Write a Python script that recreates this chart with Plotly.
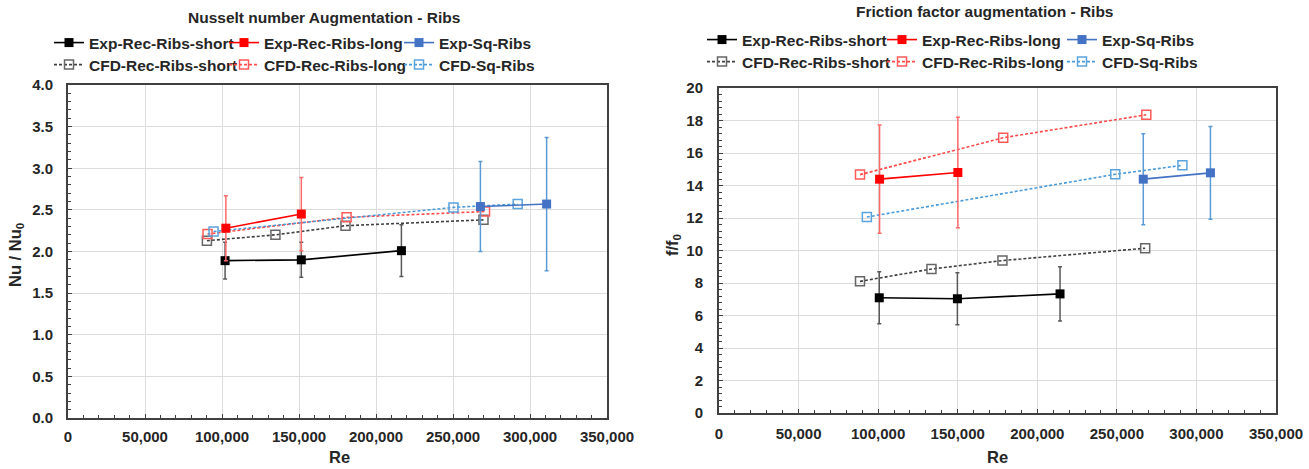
import plotly.graph_objects as go

W, H = 1309, 469

# ---------------- Data: Nusselt number augmentation (left) ----------------
nu_exp_short_re = [102000, 151500, 216500]
nu_exp_short = [1.89, 1.90, 2.01]
nu_exp_short_err = [0.22, 0.21, 0.31]

nu_exp_long_re = [102500, 151500]
nu_exp_long = [2.28, 2.45]
nu_exp_long_err = [0.39, 0.44]

nu_exp_sq_re = [267800, 310800]
nu_exp_sq = [2.54, 2.57]
nu_exp_sq_err = [0.54, 0.80]

nu_cfd_short_re = [90200, 134700, 180200, 269800]
nu_cfd_short = [2.13, 2.20, 2.31, 2.38]

nu_cfd_long_re = [90600, 180900, 270800]
nu_cfd_long = [2.21, 2.41, 2.48]

nu_cfd_sq_re = [94500, 250300, 292000]
nu_cfd_sq = [2.24, 2.53, 2.57]

# ---------------- Data: Friction factor augmentation (right) ----------------
f_exp_short_re = [100700, 149800, 214300]
f_exp_short = [7.09, 7.03, 7.33]
f_exp_short_err = [1.60, 1.60, 1.67]

f_exp_long_re = [100900, 150100]
f_exp_long = [14.39, 14.80]
f_exp_long_err = [3.33, 3.40]

f_exp_sq_re = [266600, 308800]
f_exp_sq = [14.39, 14.78]
f_exp_sq_err = [2.80, 2.85]

f_cfd_short_re = [88600, 133500, 178100, 267800]
f_cfd_short = [8.10, 8.86, 9.38, 10.14]

f_cfd_long_re = [88600, 178600, 268500]
f_cfd_long = [14.67, 16.94, 18.35]

f_cfd_sq_re = [92900, 249000, 291200]
f_cfd_sq = [12.06, 14.69, 15.24]

names_exp = ["Exp-Rec-Ribs-short", "Exp-Rec-Ribs-long", "Exp-Sq-Ribs"]
names_cfd = ["CFD-Rec-Ribs-short", "CFD-Rec-Ribs-long", "CFD-Sq-Ribs"]

exp_colors = ["#000000", "#FF0000", "#4472C4"]
exp_err_colors = ["#595959", "#FF6B6B", "#5B9BD5"]
cfd_line_colors = ["#404040", "#FF4B4B", "#4A9AD8"]
cfd_marker_colors = ["#666666", "#FF5A5A", "#5BA3DC"]

FONT = "Liberation Sans, Arial, sans-serif"

fig = go.Figure()


def add_cfd(xs, ys, i, xa, ya, leg):
    fig.add_trace(go.Scatter(
        x=xs, y=ys, name=names_cfd[i], mode="lines+markers",
        line=dict(color=cfd_line_colors[i], width=1.6, dash="3px,2px"),
        marker=dict(symbol="square-open", size=9, color=cfd_marker_colors[i],
                    line=dict(width=1.5, color=cfd_marker_colors[i])),
        xaxis=xa, yaxis=ya, legend=leg))


def add_exp(xs, ys, err, i, xa, ya, leg):
    fig.add_trace(go.Scatter(
        x=xs, y=ys, name=names_exp[i], mode="lines+markers",
        line=dict(color=exp_colors[i], width=1.6),
        marker=dict(symbol="square", size=9, color=exp_colors[i]),
        error_y=dict(type="data", array=err, visible=True, color=exp_err_colors[i],
                     thickness=1.5, width=2),
        xaxis=xa, yaxis=ya, legend=leg))


# left chart
add_cfd(nu_cfd_short_re, nu_cfd_short, 0, "x", "y", "legend2")
add_cfd(nu_cfd_long_re, nu_cfd_long, 1, "x", "y", "legend2")
add_cfd(nu_cfd_sq_re, nu_cfd_sq, 2, "x", "y", "legend2")
add_exp(nu_exp_short_re, nu_exp_short, nu_exp_short_err, 0, "x", "y", "legend")
add_exp(nu_exp_long_re, nu_exp_long, nu_exp_long_err, 1, "x", "y", "legend")
add_exp(nu_exp_sq_re, nu_exp_sq, nu_exp_sq_err, 2, "x", "y", "legend")

# right chart
add_cfd(f_cfd_short_re, f_cfd_short, 0, "x2", "y2", "legend4")
add_cfd(f_cfd_long_re, f_cfd_long, 1, "x2", "y2", "legend4")
add_cfd(f_cfd_sq_re, f_cfd_sq, 2, "x2", "y2", "legend4")
add_exp(f_exp_short_re, f_exp_short, f_exp_short_err, 0, "x2", "y2", "legend3")
add_exp(f_exp_long_re, f_exp_long, f_exp_long_err, 1, "x2", "y2", "legend3")
add_exp(f_exp_sq_re, f_exp_sq, f_exp_sq_err, 2, "x2", "y2", "legend3")


def px_x(p):
    return p / W


def px_y(p):
    return 1 - p / H


tickfont = dict(family=FONT, size=15, color="#262626", weight="bold")

common_x = dict(range=[0, 350000], dtick=50000, tick0=0, tickformat=",d",
                showgrid=True, gridcolor="#DCDCDC", gridwidth=1,
                showline=True, linecolor="#404040", linewidth=2, mirror=True,
                ticks="inside", ticklen=4, tickcolor="#404040", automargin=False,
                minor=dict(ticks="inside", dtick=10000, ticklen=3, tickcolor="#404040", showgrid=False),
                tickfont=tickfont, zeroline=False, fixedrange=True)

fig.update_layout(
    width=W, height=H,
    margin=dict(l=0, r=0, t=0, b=0, autoexpand=False),
    paper_bgcolor="white", plot_bgcolor="white",
    showlegend=True,
    xaxis=dict(domain=[px_x(68), px_x(607)], anchor="y", ticklabelstandoff=4, **common_x),
    yaxis=dict(domain=[px_y(418), px_y(85)], anchor="x", range=[0, 4], dtick=0.5,
               tickformat=".1f", showgrid=True, gridcolor="#DCDCDC", gridwidth=1,
               showline=True, linecolor="#404040", linewidth=2, mirror=True,
               ticks="inside", ticklen=4, tickcolor="#404040", ticklabelstandoff=10,
               automargin=False,
               minor=dict(ticks="inside", dtick=0.1, ticklen=3, tickcolor="#404040", showgrid=False),
               tickfont=tickfont, zeroline=False, fixedrange=True),
    xaxis2=dict(domain=[px_x(719), px_x(1276)], anchor="y2", ticklabelstandoff=6, **common_x),
    yaxis2=dict(domain=[px_y(413), px_y(88)], anchor="x2", range=[0, 20], dtick=2,
                showgrid=True, gridcolor="#DCDCDC", gridwidth=1,
                showline=True, linecolor="#404040", linewidth=2, mirror=True,
                ticks="inside", ticklen=4, tickcolor="#404040", ticklabelstandoff=11,
                automargin=False,
                minor=dict(ticks="inside", dtick=0.4, ticklen=3, tickcolor="#404040", showgrid=False),
                tickfont=tickfont, zeroline=False, fixedrange=True),
)

legfont = dict(family=FONT, size=15.5, color="#262626", weight="bold")
leg_common = dict(orientation="h", xanchor="left", yanchor="middle", font=legfont,
                  xref="container", yref="container",
                  bgcolor="rgba(0,0,0,0)", itemwidth=30,
                  itemclick=False, itemdoubleclick=False, tracegroupgap=0)

fig.update_layout(
    legend=dict(x=px_x(49), y=px_y(43), entrywidth=130, **leg_common),
    legend2=dict(x=px_x(49), y=px_y(65), entrywidth=130, **leg_common),
    legend3=dict(x=px_x(702), y=px_y(40), entrywidth=135, **leg_common),
    legend4=dict(x=px_x(702), y=px_y(62), entrywidth=135, **leg_common),
)

ann_font = dict(family=FONT, size=15.5, color="#262626", weight="bold")
axis_font = dict(family=FONT, size=16.5, color="#262626", weight="bold")
fig.update_layout(annotations=[
    dict(text="Nusselt number Augmentation - Ribs", x=px_x(324), y=px_y(17), xref="paper", yref="paper",
         showarrow=False, font=ann_font, xanchor="center", yanchor="middle"),
    dict(text="Friction factor augmentation - Ribs", x=px_x(984), y=px_y(12), xref="paper", yref="paper",
         showarrow=False, font=ann_font, xanchor="center", yanchor="middle"),
    dict(text="Re", x=px_x(339), y=px_y(457), xref="paper", yref="paper",
         showarrow=False, font=axis_font, xanchor="center", yanchor="middle"),
    dict(text="Re", x=px_x(997), y=px_y(457), xref="paper", yref="paper",
         showarrow=False, font=axis_font, xanchor="center", yanchor="middle"),
    dict(text="Nu / Nu<sub>0</sub>", x=px_x(16), y=px_y(255), xref="paper", yref="paper",
         showarrow=False, font=axis_font, textangle=-90, xanchor="center", yanchor="middle"),
    dict(text="f/f<sub>0</sub>", x=px_x(673), y=px_y(245), xref="paper", yref="paper",
         showarrow=False, font=axis_font, textangle=-90, xanchor="center", yanchor="middle"),
])

fig.write_html("out.html", config={"displayModeBar": False},
               post_script="document.body.style.margin='0';document.body.style.overflow='hidden';")
